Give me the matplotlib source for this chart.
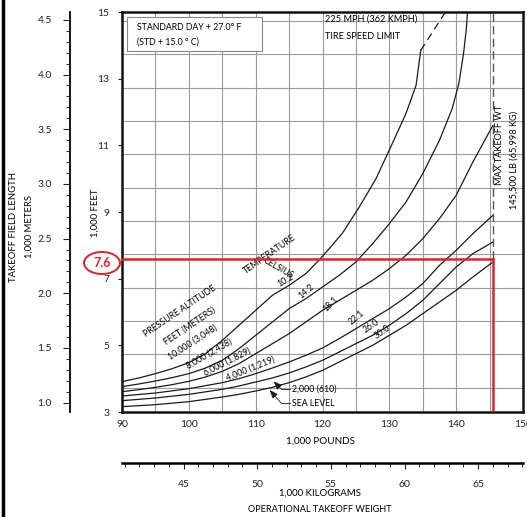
import matplotlib
matplotlib.use("Agg")
import matplotlib.pyplot as plt
import numpy as np
from matplotlib.patches import Rectangle, Ellipse
from matplotlib.lines import Line2D
from matplotlib.ticker import MultipleLocator, FixedLocator

plt.rcParams['font.family'] = ['Lato', 'DejaVu Sans']

# ---------------- data ----------------
# weight in 1,000 lb, field length in 1,000 ft
c10000_x = [90, 92.5, 95, 97.5, 100, 102.5, 105, 107.5, 110, 112.5, 115, 117.5, 119.5, 121, 123, 125.5, 128, 130, 132.5, 134, 134.7]
c10000_y = [3.91, 4.02, 4.15, 4.3, 4.48, 4.75, 5.15, 5.6, 6.05, 6.5, 6.8, 7.15, 7.56, 7.9, 8.37, 9.15, 10.0, 10.86, 11.96, 12.8, 13.85]
c10000_dash_x = [134.7, 138.4]
c10000_dash_y = [13.85, 15.0]

c8000_x = [90, 92.5, 95, 97.5, 100, 102.5, 105, 107.5, 110, 112.5, 115, 117.5, 120, 122.5, 125, 127.5, 130, 132.5, 135, 137.5, 139.4, 140.4, 141.1, 141.5, 141.7]
c8000_y = [3.76, 3.84, 3.93, 4.03, 4.15, 4.32, 4.55, 4.9, 5.3, 5.7, 6.1, 6.4, 6.75, 7.1, 7.5, 8.05, 8.65, 9.3, 10.15, 11.15, 12.1, 12.85, 13.75, 14.45, 15.0]

c6000_x = [90, 92.5, 95, 97.5, 100, 102.5, 105, 107.5, 110, 112.5, 115, 117.5, 120, 122.5, 125, 127.5, 130, 132.5, 135, 137.5, 140, 142.5, 145.5]
c6000_y = [3.61, 3.67, 3.74, 3.82, 3.92, 4.05, 4.22, 4.45, 4.75, 5.05, 5.35, 5.7, 6.05, 6.35, 6.65, 6.95, 7.3, 7.7, 8.2, 8.8, 9.5, 10.5, 11.6]

c4000_x = [90, 95, 100, 105, 107.5, 110, 112.5, 115, 117.5, 120, 122.5, 125, 127.5, 130, 132.5, 135, 137.5, 140, 142.5, 145.5]
c4000_y = [3.48, 3.57, 3.7, 3.88, 4.0, 4.15, 4.32, 4.5, 4.7, 4.92, 5.2, 5.5, 5.8, 6.1, 6.45, 6.85, 7.4, 7.85, 8.35, 8.9]

c2000_x = [90, 95, 100, 105, 107.5, 110, 112.5, 115, 117.5, 120, 122.5, 125, 127.5, 130, 132.5, 135, 137.5, 140, 142.5, 145.5]
c2000_y = [3.34, 3.42, 3.53, 3.68, 3.78, 3.9, 4.02, 4.17, 4.35, 4.55, 4.8, 5.05, 5.3, 5.6, 5.95, 6.35, 6.85, 7.35, 7.75, 8.1]

csl_x = [90, 95, 100, 105, 107.5, 110, 112.5, 115, 117.5, 120, 122.5, 125, 127.5, 130, 132.5, 135, 137.5, 140, 142.5, 145.5]
csl_y = [3.16, 3.22, 3.31, 3.45, 3.53, 3.63, 3.74, 3.88, 4.05, 4.25, 4.5, 4.75, 5.0, 5.3, 5.6, 5.95, 6.3, 6.65, 7.05, 7.5]

altitude_labels = ["10,000 (3,048)", "8,000 (2,438)", "6,000 (1,829)", "4,000 (1,219)"]
temp_labels = ["10.2", "14.2", "18.1", "22.1", "26.0", "30.0"]

max_takeoff_wt = 145.5
result_length = 7.6

x_ticks = [90, 100, 110, 120, 130, 140, 150]
y_ticks = [3, 5, 7, 9, 11, 13, 15]
m_ticks = [1.0, 1.5, 2.0, 2.5, 3.0, 3.5, 4.0, 4.5]
kg_ticks = [45, 50, 55, 60, 65]

LB_PER_KG = 2.20462
M_PER_FT = 0.3048

# ---------------- figure ----------------
W, H = 527, 517
fig = plt.figure(figsize=(W / 100, H / 100), dpi=100)
fig.patch.set_facecolor('white')

L, R, T, B = 122 / W, 523 / W, 1 - 12 / H, 1 - 412 / H
ax = fig.add_axes([L, B, R - L, T - B])
ax.set_xlim(90, 150)
ax.set_ylim(3, 15)
for s in ax.spines.values():
    s.set_linewidth(1.8)
    s.set_color('#111111')

# grid
grid_col = '#9a9a9a'
for gx in np.arange(95, 150, 5):
    ax.axvline(gx, color=grid_col, lw=0.8, zorder=0)
for gy in np.arange(3.73, 15, 1.0):
    ax.axhline(gy, color=grid_col, lw=0.8, zorder=0)

ax.set_xticks(x_ticks)
ax.set_xticklabels([str(v) for v in x_ticks])
ax.set_yticks(y_ticks)
ax.set_yticklabels([str(v) for v in y_ticks])
ax.tick_params(axis='x', length=0, pad=6, labelsize=7.5, colors='#222222')
ax.tick_params(axis='y', length=3, width=0.8, pad=6, labelsize=7.5, colors='#222222')

lc = '#1a1a1a'
lw = 0.9
ax.plot(c10000_x, c10000_y, color=lc, lw=lw)
ax.plot(c10000_dash_x, c10000_dash_y, color=lc, lw=lw, ls=(0, (6, 4)))
ax.plot(c8000_x, c8000_y, color=lc, lw=lw)
ax.plot(c6000_x, c6000_y, color=lc, lw=lw)
ax.plot(c4000_x, c4000_y, color=lc, lw=lw)
ax.plot(c2000_x, c2000_y, color=lc, lw=lw)
ax.plot(csl_x, csl_y, color=lc, lw=lw)

# max takeoff weight dashed line
ax.plot([max_takeoff_wt, max_takeoff_wt], [result_length, 15], color='#555555', lw=1.0, ls=(0, (6, 3)))

# red reading lines
red = '#e3212b'
ax.plot([90, max_takeoff_wt], [result_length, result_length], color=red, lw=1.8, clip_on=False, zorder=5)
ax.plot([max_takeoff_wt, max_takeoff_wt], [result_length, 3], color=red, lw=1.8, zorder=5)

fs = 6.3
# box
ax.add_patch(Rectangle((90.75, 13.83), 20.25, 1.02, facecolor='white', edgecolor='#888888', lw=0.8, zorder=3))
ax.text(92.2, 14.55, "STANDARD DAY + 27.0° F", fontsize=fs, va='center', ha='left', zorder=4)
ax.text(92.2, 14.1, "(STD + 15.0 ° C)", fontsize=fs, va='center', ha='left', zorder=4)

ax.text(120.3, 14.79, "225 MPH (362 KMPH)", fontsize=fs + 0.3, va='center', ha='left')
ax.text(120.3, 14.28, "TIRE SPEED LIMIT", fontsize=fs + 0.3, va='center', ha='left')

ax.text(146.5, 11.0, "MAX TAKEOFF WT", fontsize=fs + 0.3, rotation=90, va='center', ha='center')
ax.text(148.7, 10.55, "145,500 LB (65,998 KG)", fontsize=fs + 0.3, rotation=90, va='center', ha='center')

ax.text(98.66, 6.02, "PRESSURE ALTITUDE", fontsize=fs, rotation=34, va='center', ha='center', rotation_mode='anchor')
ax.text(100.15, 5.57, "FEET (METERS)", fontsize=fs, rotation=34, va='center', ha='center', rotation_mode='anchor')
alt_pos = [(100.6, 5.08, 33), (103.1, 4.74, 30), (105.8, 4.5, 27), (109.25, 4.3, 22)]
for lab, (tx, ty, rot) in zip(altitude_labels, alt_pos):
    ax.text(tx, ty, lab, fontsize=fs, rotation=rot, va='center', ha='center', rotation_mode='anchor')

ax.text(112.1, 7.74, "TEMPERATURE", fontsize=fs, rotation=35, va='center', ha='center', rotation_mode='anchor')
ax.text(113.4, 7.32, "CELSIUS", fontsize=fs, rotation=-30, va='center', ha='center', rotation_mode='anchor')
temp_pos = [(114.5, 6.96, 30), (117.5, 6.6, 40), (121.2, 6.24, 45), (125.1, 5.82, 40), (127.3, 5.58, 35), (129.0, 5.4, 35)]
for lab, (tx, ty, rot) in zip(temp_labels, temp_pos):
    ax.text(tx, ty, lab, fontsize=fs, rotation=rot, va='center', ha='center', rotation_mode='anchor')

# callouts
ax.text(115.4, 3.69, "2,000 (610)", fontsize=fs, va='center', ha='left')
ax.text(115.4, 3.27, "SEA LEVEL", fontsize=fs, va='center', ha='left')
ax.plot([115.2, 113.8], [3.69, 3.69], color=lc, lw=0.6)
ax.plot([115.2, 113.8], [3.27, 3.27], color=lc, lw=0.6)
ap = dict(arrowstyle='-|>,head_length=0.5,head_width=0.2', color=lc, lw=0.6, shrinkA=0, shrinkB=0)
ax.annotate('', xy=(112.7, 3.92), xytext=(113.8, 3.69), arrowprops=ap)
ax.annotate('', xy=(112.1, 3.66), xytext=(113.8, 3.27), arrowprops=ap)

# 7.6 circled label
fig.add_artist(Ellipse((102 / W, 1 - 263 / H), 36 / W, 22 / H, transform=fig.transFigure,
                       facecolor='white', edgecolor=red, lw=1.4, zorder=6))
fig.text(102 / W, 1 - 263 / H, "7.6", color=red, fontsize=9, fontweight='bold', ha='center', va='center', zorder=7)

# axis titles
fig.text(95 / W, 1 - 213 / H, "1,000 FEET", rotation=90, fontsize=fs + 0.5, ha='center', va='center')
fig.text(14 / W, 1 - 227 / H, "TAKEOFF FIELD LENGTH", rotation=90, fontsize=fs + 0.5, ha='center', va='center')
fig.text(29 / W, 1 - 227 / H, "1,000 METERS", rotation=90, fontsize=fs + 0.5, ha='center', va='center')
fig.text(320 / W, 1 - 441 / H, "1,000 POUNDS", fontsize=fs + 0.8, ha='center', va='center')
fig.text(320 / W, 1 - 493 / H, "1,000 KILOGRAMS", fontsize=fs + 0.6, ha='center', va='center')
fig.text(320 / W, 1 - 510 / H, "OPERATIONAL TAKEOFF WEIGHT", fontsize=fs + 0.3, ha='center', va='center')

# meters axis
axm = fig.add_axes([70 / W, B, 0.0005, T - B])
axm.set_ylim(3 * M_PER_FT, 15 * M_PER_FT)
for k in ['top', 'right', 'bottom']:
    axm.spines[k].set_visible(False)
axm.spines['left'].set_linewidth(1.3)
axm.set_xticks([])
axm.yaxis.set_major_locator(FixedLocator(m_ticks))
axm.set_yticklabels([f"{v:.1f}" for v in m_ticks])
axm.yaxis.set_minor_locator(MultipleLocator(0.1))
axm.tick_params(axis='y', which='major', length=5, width=0.8, pad=8, labelsize=7.5, colors='#222222')
axm.tick_params(axis='y', which='minor', length=3, width=0.6)
axm.patch.set_visible(False)

# kilograms axis
axk = fig.add_axes([L, 1 - 463 / H, R - L, 0.0005])
axk.set_xlim(90 / LB_PER_KG, 150 / LB_PER_KG)
for k in ['top', 'right', 'left']:
    axk.spines[k].set_visible(False)
axk.spines['bottom'].set_linewidth(1.8)
axk.set_yticks([])
axk.xaxis.set_major_locator(FixedLocator(kg_ticks))
axk.set_xticklabels([str(v) for v in kg_ticks])
axk.xaxis.set_minor_locator(MultipleLocator(1))
axk.tick_params(axis='x', which='major', length=4, width=0.8, pad=8, labelsize=7.5, colors='#222222')
axk.tick_params(axis='x', which='minor', length=3, width=0.6)
axk.patch.set_visible(False)

# left border
fig.add_artist(Line2D([3 / W, 3 / W], [0, 1], transform=fig.transFigure, color='k', lw=2.5))

fig.savefig("out.png", dpi=100)
